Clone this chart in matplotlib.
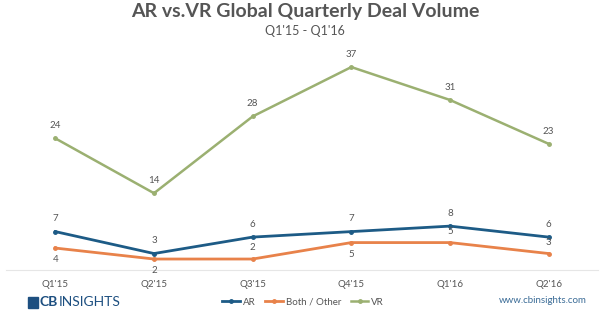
import matplotlib.pyplot as plt

quarters = ["Q1'15", "Q2'15", "Q3'15", "Q4'15", "Q1'16", "Q2'16"]
ar = [7, 3, 6, 7, 8, 6]
both_other = [4, 2, 2, 5, 5, 3]
vr = [24, 14, 28, 37, 31, 23]

# label placement per point: +1 above, -1 below
both_side = [-1, -1, 1, -1, 1, 1]

AR_C = "#1d5b86"
BOTH_C = "#e8824a"
VR_C = "#9bb071"
TXT = "#555555"

plt.rcParams["font.family"] = ["Lato", "DejaVu Sans"]

fig = plt.figure(figsize=(6.1, 3.22), dpi=100)
ax = fig.add_axes([6 / 610, 52 / 322, 592 / 610, 215 / 322])

x = list(range(len(quarters)))
ax.plot(x, ar, color=AR_C, lw=2, marker="o", ms=2.5, label="AR")
ax.plot(x, both_other, color=BOTH_C, lw=2, marker="o", ms=2.5, label="Both / Other")
ax.plot(x, vr, color=VR_C, lw=1.8, marker="o", ms=2.5, label="VR")

for i in x:
    ax.annotate(str(ar[i]), (i, ar[i]), xytext=(0, 6), textcoords="offset points",
                ha="center", va="bottom", fontsize=7, color=TXT)
    ax.annotate(str(vr[i]), (i, vr[i]), xytext=(0, 6), textcoords="offset points",
                ha="center", va="bottom", fontsize=7, color=TXT)
    s = both_side[i]
    ax.annotate(str(both_other[i]), (i, both_other[i]), xytext=(0, 5 * s),
                textcoords="offset points", ha="center",
                va="bottom" if s > 0 else "top", fontsize=7, color=TXT)

ax.set_xlim(-0.5, 5.5)
ax.set_ylim(0, 39.2)
ax.set_xticks(x)
ax.set_xticklabels(quarters, fontsize=7, color=TXT)
ax.tick_params(axis="x", length=0, pad=7)
ax.set_yticks([])
for side in ["left", "right", "top"]:
    ax.spines[side].set_visible(False)
ax.spines["bottom"].set_color("#e6e6e6")

fig.text(0.5, 0.963, "AR vs.VR Global Quarterly Deal Volume", ha="center", va="center",
         fontsize=14, fontweight="bold", color=TXT)
fig.text(0.5, 0.905, "Q1'15 - Q1'16", ha="center", va="center", fontsize=9, color=TXT)

leg = fig.legend(loc="center", bbox_to_anchor=(0.497, 0.062), ncol=3, frameon=False,
                 fontsize=7, handlelength=1.8, handletextpad=0.3, columnspacing=1.0)
for t in leg.get_texts():
    t.set_color(TXT)

# branding
fig.patches.append(plt.Rectangle((28 / 610, 0.045), 10 / 610, 0.033, transform=fig.transFigure,
                                 color="#1d4f80"))
fig.text(40 / 610, 0.062, "CB", ha="left", va="center", fontsize=10, fontweight="bold",
         color="#1d4f80")
fig.text(59 / 610, 0.062, "INSIGHTS", ha="left", va="center", fontsize=10, color="#1d4f80")
fig.text(587 / 610, 0.066, "www.cbinsights.com", ha="right", va="center", fontsize=7,
         color="#3b6c97")

fig.savefig("out.png", dpi=100, facecolor="white")
